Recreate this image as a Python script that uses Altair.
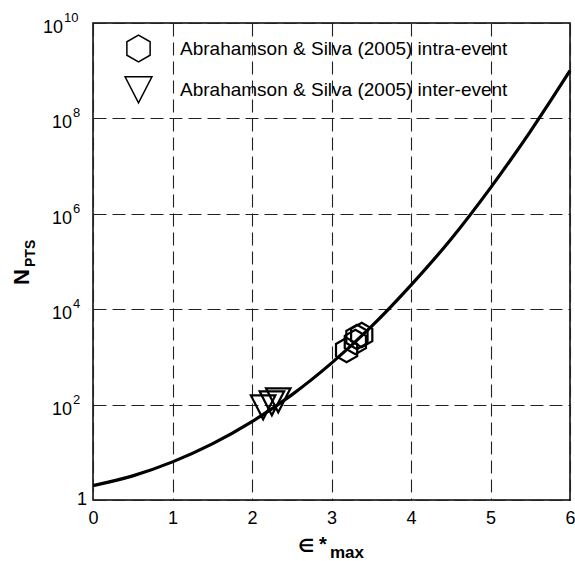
import altair as alt
import pandas as pd

# --- data ---
curve_x = [0, 0.5, 1, 1.5, 2, 2.5, 3, 3.5, 4, 4.5, 5, 5.5, 6]
curve_y = [2.0, 3.2, 6.3, 15, 44, 160, 740, 4300, 3.2e4, 2.9e5, 3.5e6, 5.3e7, 1.0e9]

series = ["Abrahamson & Silva (2005) intra-event", "Abrahamson & Silva (2005) inter-event"]
intra_x = [3.19, 3.30, 3.32, 3.38]
intra_y = [1390, 2050, 2620, 2880]
inter_x = [2.14, 2.25, 2.33]
inter_y = [89, 108, 125]

x_ticks = [0, 1, 2, 3, 4, 5, 6]
y_grid = [1, 1e2, 1e4, 1e6, 1e8, 1e10]
y_pow_vals = [1e2, 1e4, 1e6, 1e8, 1e10]
y_pow_exps = ["2", "4", "6", "8", "10"]

FONT = "Liberation Sans"
HEX = "M0,-1L0.866,-0.5L0.866,0.5L0,1L-0.866,0.5L-0.866,-0.5Z"
TRI = "M-1,-0.95L1,-0.95L0,1Z"

curve_df = pd.DataFrame({"x": curve_x, "y": curve_y})
pts_df = pd.DataFrame({
    "x": intra_x + inter_x,
    "y": intra_y + inter_y,
    "s": [series[0]] * len(intra_x) + [series[1]] * len(inter_x),
})
ticks_df = pd.DataFrame({"v": y_pow_vals, "e": y_pow_exps})
one = pd.DataFrame({"a": [0]})

xs = alt.Scale(domain=[0, 6], nice=False, zero=False)
ys = alt.Scale(type="log", domain=[1, 1e10], nice=False)

xaxis = alt.Axis(values=x_ticks, format="d", grid=True, ticks=False, domain=False, labelFontSize=18,
                 labelFont=FONT, labelColor="black", labelPadding=9, title=None,
                 gridDash=[13, 6], gridColor="#222", gridWidth=1.1, labelFlush=False)
yaxis = alt.Axis(values=y_grid, grid=True, ticks=False, domain=False, labels=False, title=None,
                 gridDash=[13, 6], gridColor="#222", gridWidth=1.1)

curve = alt.Chart(curve_df).mark_line(color="black", strokeWidth=3.2, interpolate="monotone").encode(
    x=alt.X("x:Q", scale=xs, axis=xaxis),
    y=alt.Y("y:Q", scale=ys, axis=yaxis),
)

points = alt.Chart(pts_df).mark_point(filled=False, color="black", strokeWidth=2.2, size=600, opacity=1).encode(
    x=alt.X("x:Q", scale=xs),
    y=alt.Y("y:Q", scale=ys),
    shape=alt.Shape("s:N", scale=alt.Scale(domain=series, range=[HEX, TRI]),
                    legend=alt.Legend(orient="none", legendX=31, legendY=11, title=None,
                                      symbolSize=720, symbolStrokeWidth=1.5,
                                      symbolStrokeColor="black", symbolFillColor="transparent",
                                      labelFontSize=19, labelFont=FONT, labelColor="black",
                                      labelLimit=0, labelOffset=27, rowPadding=8, padding=0)),
)

# y tick labels 10^n
base1 = alt.Chart(ticks_df).transform_filter("length(datum.e) == 1").mark_text(
    text="10", align="right", baseline="alphabetic", dy=10, fontSize=18, font=FONT, color="black"
).encode(y=alt.Y("v:Q", scale=ys), x=alt.value(-21))
base2 = alt.Chart(ticks_df).transform_filter("length(datum.e) == 2").mark_text(
    text="10", align="right", baseline="alphabetic", dy=10, fontSize=18, font=FONT, color="black"
).encode(y=alt.Y("v:Q", scale=ys), x=alt.value(-30))
exp1 = alt.Chart(ticks_df).transform_filter("length(datum.e) == 1").mark_text(
    align="left", baseline="alphabetic", dy=-1, fontSize=13, font=FONT, color="black"
).encode(y=alt.Y("v:Q", scale=ys), x=alt.value(-20), text="e:N")
exp2 = alt.Chart(ticks_df).transform_filter("length(datum.e) == 2").mark_text(
    align="left", baseline="alphabetic", dy=-1, fontSize=13, font=FONT, color="black"
).encode(y=alt.Y("v:Q", scale=ys), x=alt.value(-29), text="e:N")
lab1 = alt.Chart(one).mark_text(text="1", align="right", baseline="middle", fontSize=18,
                                font=FONT, color="black").encode(
    x=alt.value(-6), y=alt.value(477))

# axis titles
ytitle_n = alt.Chart(one).mark_text(text="N", angle=270, align="center", baseline="alphabetic",
                                    fontSize=22, fontWeight="bold", font=FONT, color="black").encode(
    x=alt.value(-64), y=alt.value(254))
ytitle_sub = alt.Chart(one).mark_text(text="PTS", angle=270, align="left", baseline="alphabetic",
                                      fontSize=14, fontWeight="bold", font=FONT, color="black").encode(
    x=alt.value(-58), y=alt.value(244))
xtitle_e = alt.Chart(one).mark_text(text="∈", align="center", baseline="alphabetic",
                                    fontSize=18, fontWeight="bold", font="DejaVu Sans", color="black").encode(
    x=alt.value(213), y=alt.value(529))
xtitle_star = alt.Chart(one).mark_text(text="*", align="center", baseline="alphabetic",
                                       fontSize=20, fontWeight="bold", font=FONT, color="black").encode(
    x=alt.value(230), y=alt.value(528))
xtitle_max = alt.Chart(one).mark_text(text="max", align="left", baseline="alphabetic",
                                      fontSize=17, fontWeight="bold", font=FONT, color="black").encode(
    x=alt.value(237), y=alt.value(535))

chart = alt.layer(
    curve, points, base1, base2, exp1, exp2, lab1,
    ytitle_n, ytitle_sub, xtitle_e, xtitle_star, xtitle_max,
).properties(
    width=477, height=477,
    autosize=alt.AutoSizeParams(type="none"),
    padding={"left": 93, "top": 23, "right": 5, "bottom": 61},
    background="white",
).configure_view(
    stroke="black", strokeWidth=1.5
)

chart.save("out.html", embed_options={"renderer": "svg", "actions": False})
